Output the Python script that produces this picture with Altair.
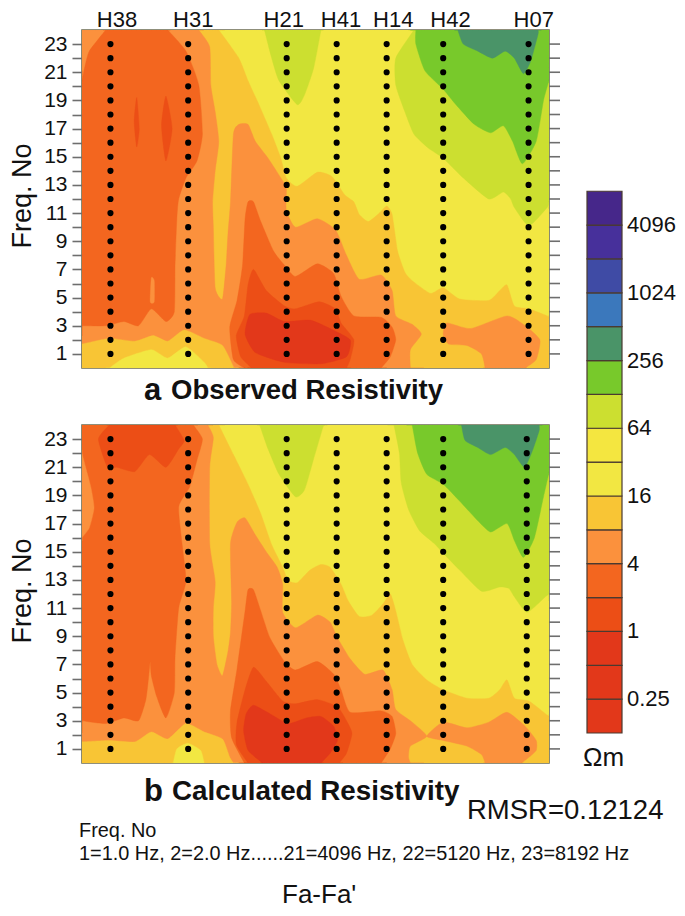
import altair as alt
import pandas as pd

# class colours
TEAL, GREEN, LIME = "#4A9468", "#78C92B", "#CCDF30"
YEL, GOLD, LOR = "#F2E742", "#F8C535", "#FB913D"
ORG, ROR, RED = "#F3661F", "#EC4E16", "#E2381A"

stations = ["H38", "H31", "H21", "H41", "H14", "H42", "H07"]
label_x = [321, 530, 778, 935, 1078, 1235, 1463]
dots_a = [303, 516, 786, 923, 1060, 1215, 1449]
dots_b = [303, 516, 786, 923, 1060, 1215, 1444]
freqs = list(range(1, 24))

# Panel a: contour outlines as (profile position, frequency number)
a_base = [(225, 0), (1505, 0), (1505, 24), (225, 24)]
a_lime = [(1135, 24), (1085, 22), (1085, 20.1), (1110, 18.2), (1135, 16.6), (1175, 15.6), (1215, 14.9), (1270, 13.5),
          (1340, 12), (1380, 12.5), (1400, 12), (1410, 11.4), (1450, 10.1), (1500, 11.4), (1505, 11.8), (1505, 24)]
a_lobe = [(725, 24), (745, 22), (765, 20.4), (815, 18.7), (835, 19.4), (860, 21.3), (880, 24)]
a_green = [(1140, 24), (1140, 23), (1165, 21.1), (1215, 19.8), (1250, 18.7), (1300, 17.3), (1345, 16.7), (1380, 17.2),
           (1405, 16.1), (1432, 14.5), (1470, 16.1), (1490, 19), (1505, 20.4), (1505, 24)]
a_teal = [(1255, 24), (1270, 23), (1310, 22.5), (1350, 22), (1385, 22.5), (1410, 22), (1435, 20.9), (1455, 21.8),
          (1475, 23.7), (1475, 24)]
a_gold = [(225, 24), (600, 24), (655, 22), (680, 20.4), (710, 18.7), (745, 16.6), (770, 14.9), (785, 13.5), (815, 12.9),
          (870, 13.9), (910, 13.6), (945, 12.3), (970, 11.8), (985, 10.9), (1010, 10.4), (1040, 11), (1060, 11.5),
          (1075, 10.9), (1090, 8.3), (1110, 6.8), (1130, 6.2), (1180, 5.3), (1215, 5.7), (1260, 4.9), (1340, 4.8),
          (1370, 5.5), (1390, 5.9), (1410, 4.4), (1450, 4.2), (1500, 3.7), (1505, 3.6), (1505, 0), (225, 0)]
a_lor = [(225, 24), (545, 24), (575, 22.8), (578, 20.1), (590, 18.2), (600, 16.1), (590, 14), (583, 11.8), (585, 10),
         (590, 5.7), (610, 4.9), (620, 7.3), (625, 9.5), (632, 11.8), (640, 16.6), (655, 17.3), (680, 17.3), (700, 16.1),
         (735, 14.9), (770, 13.5), (785, 12.8), (785, 11.2), (810, 10), (870, 10.6), (920, 9.8), (950, 8), (985, 6.3),
         (1045, 6.6), (1075, 5.5), (1085, 3.7), (1130, 3.1), (1155, 2.4), (1125, 1.3), (1125, 0), (225, 0)]
a_lor2 = [(1225, 3.2), (1290, 2.8), (1390, 3.7), (1440, 3), (1480, 2), (1470, 0.6), (1440, 0), (1330, 0), (1320, 1),
          (1280, 1.6), (1230, 1.7), (1215, 2.4)]
a_gold2 = [(225, 1.7), (300, 2.1), (370, 1.9), (420, 2.3), (460, 1.9), (505, 2.7), (560, 2.1), (610, 1.6), (640, 0.1),
           (640, 0), (225, 0)]
a_yel2 = [(300, 0), (340, 0.7), (415, 1.3), (460, 0.7), (510, 1.5), (560, 0.4), (570, 0)]
a_org = [(290, 24), (460, 24), (510, 22.5), (545, 20.1), (555, 16.6), (540, 14.7), (510, 13.5), (490, 12), (485, 10.6),
         (480, 7.3), (478, 4), (455, 3.3), (415, 4.2), (380, 3), (340, 3.3), (290, 3), (225, 3), (225, 20.4), (232, 21.3),
         (245, 22.5)]
a_sliver = [(415, 6.4), (423, 6.2), (423, 4.7), (412, 4.7)]
a_ror1 = [(375, 19.2), (382, 17), (375, 15.7), (368, 17.5)]
a_ror2 = [(455, 19.3), (472, 17), (455, 14.7), (443, 17.2)]
a_org2 = [(680, 11.8), (695, 11.8), (715, 10.4), (750, 8.3), (780, 7.3), (810, 6.5), (870, 7.4), (915, 6.7), (935, 5.1),
          (970, 3.7), (1045, 3.6), (1075, 2.9), (1085, 2), (1070, 0.8), (1045, 0), (670, 0), (640, 0.6), (630, 2.9),
          (650, 4.8), (665, 7.3), (672, 10.6)]
a_ror3 = [(695, 7), (730, 5.5), (780, 4.4), (810, 4.2), (875, 4.7), (920, 4.2), (935, 3.2), (970, 2), (960, 0.6),
          (950, 0), (690, 0), (660, 0.8), (648, 2.3), (670, 3.7), (680, 5.9)]
a_red = [(672, 2.4), (685, 3.8), (730, 3.9), (780, 3.3), (850, 3.4), (905, 2.8), (960, 2), (950, 0.8), (880, 0.3),
         (780, 0.4), (700, 1.1)]

# Panel b
b_base = [(225, 0), (1505, 0), (1505, 24), (225, 24)]
b_lime = [(1080, 24), (1095, 22), (1100, 19.9), (1120, 18), (1150, 16.5), (1190, 15.6), (1215, 14.9), (1260, 13.7),
          (1320, 12.2), (1370, 12.5), (1395, 12.4), (1410, 11.8), (1445, 10.7), (1495, 11.8), (1505, 12), (1505, 24)]
b_lobe = [(712, 24), (735, 22.3), (765, 20.5), (810, 18.9), (835, 19.4), (860, 21.6), (885, 23.8), (890, 24)]
b_green = [(1130, 24), (1145, 22), (1170, 20.5), (1215, 19.8), (1260, 18.6), (1310, 17.2), (1345, 16.4), (1390, 17),
           (1410, 15.8), (1435, 14.6), (1465, 16), (1490, 18.9), (1505, 20.6), (1505, 24)]
b_teal = [(1265, 24), (1275, 22.9), (1310, 22.4), (1345, 21.9), (1385, 22.4), (1410, 21.9), (1438, 21), (1460, 22.2),
          (1478, 23.6), (1478, 24)]
b_gold = [(225, 24), (600, 24), (640, 21.9), (680, 19.8), (715, 17.7), (745, 15.5), (775, 13.9), (790, 12.95),
          (815, 12.8), (850, 13.7), (880, 14.1), (905, 13.9), (935, 12.7), (955, 11.5), (985, 10.4), (1020, 10.5),
          (1050, 11.3), (1070, 12), (1085, 10.8), (1105, 8.7), (1130, 7), (1170, 5.9), (1215, 5.2), (1280, 4.6),
          (1340, 4.6), (1370, 5.2), (1390, 5.9), (1410, 4.6), (1450, 4.4), (1500, 3.4), (1505, 3.3), (1505, 0), (225, 0)]
b_lor = [(225, 24), (570, 24), (585, 23.1), (575, 21), (575, 15.6), (590, 12.9), (585, 11), (585, 9), (595, 7), (610, 6.2),
         (625, 7.9), (632, 9.3), (635, 11.5), (632, 15.6), (650, 17.1), (672, 17.4), (700, 16.2), (730, 15), (760, 13.9),
         (775, 12.7), (775, 10.7), (810, 9.6), (870, 10.5), (905, 10), (925, 8.9), (960, 7.4), (1000, 6.3), (1050, 6.6),
         (1075, 5.2), (1085, 3.8), (1130, 2.9), (1170, 1.9), (1125, 1.2), (1120, 0.4), (1125, 0), (225, 0)]
b_lor2 = [(1170, 1.9), (1215, 2.9), (1280, 2.5), (1340, 2.9), (1390, 3.6), (1440, 2.6), (1470, 1.6), (1470, 0.9),
          (1450, 0.4), (1430, 0), (1330, 0), (1320, 0.6), (1280, 1.2), (1215, 1.6)]
b_gold2 = [(225, 1.5), (300, 1.6), (370, 1.5), (415, 2.2), (460, 1.7), (510, 2.8), (560, 2.2), (610, 1.7), (630, 0.4),
           (640, 0), (225, 0)]
b_yel2 = [(475, 0), (485, 1), (515, 1.4), (550, 0.9), (560, 0)]
b_org = [(225, 24), (530, 24), (555, 23), (540, 21.5), (520, 19.6), (490, 18.2), (500, 15.4), (510, 12.9), (490, 11),
         (480, 7.5), (478, 5), (455, 3.2), (430, 4.7), (415, 6.2), (412, 7.2), (408, 6.2), (400, 4.5), (380, 3), (340, 3.2),
         (290, 2.8), (225, 3)]
b_left = [(225, 22), (235, 21), (250, 19.5), (258, 18.1), (245, 16.7), (225, 16)]
b_ror1 = [(300, 24), (270, 23), (295, 21), (320, 21), (370, 20.7), (410, 21.9), (455, 21), (490, 22.3), (505, 22.9), (480, 24)]
b_org2 = [(680, 12.3), (695, 12.3), (715, 10.8), (740, 8.9), (780, 7.2), (810, 6.6), (870, 7.2), (915, 6.3), (935, 5.2),
          (960, 3.6), (1045, 3.7), (1075, 3.3), (1085, 2.1), (1070, 1), (1045, 0), (670, 0), (635, 1.8), (632, 3.7),
          (650, 6.7), (672, 10.8)]
b_ror3 = [(695, 6.8), (730, 5.8), (775, 4.4), (810, 4.2), (870, 4.5), (925, 4), (950, 3), (965, 2.1), (950, 0.7), (930, 0),
          (680, 0), (648, 1.3), (650, 2.9), (672, 5.2)]
b_red = [(675, 3.5), (695, 4.1), (740, 3.5), (790, 2.8), (840, 3.2), (880, 3.3), (915, 2.6), (925, 1.6), (905, 0.7), (880, 0),
         (720, 0), (680, 0.9), (668, 2.3)]

layers_a = [(a_base, YEL), (a_lime, LIME), (a_lobe, LIME), (a_green, GREEN), (a_teal, TEAL), (a_gold, GOLD), (a_lor, LOR),
            (a_lor2, LOR), (a_gold2, GOLD), (a_yel2, YEL), (a_org, ORG), (a_sliver, LOR), (a_ror1, ROR), (a_ror2, ROR),
            (a_org2, ORG), (a_ror3, ROR), (a_red, RED)]
layers_b = [(b_base, YEL), (b_lime, LIME), (b_lobe, LIME), (b_green, GREEN), (b_teal, TEAL), (b_gold, GOLD), (b_lor, LOR),
            (b_lor2, LOR), (b_gold2, GOLD), (b_yel2, YEL), (b_org, ORG), (b_left, LOR), (b_ror1, ROR), (b_org2, ORG),
            (b_ror3, ROR), (b_red, RED)]

# Colour bar, bottom to top
bar_colors = [RED, RED, RED, ROR, ORG, LOR, GOLD, YEL, "#F4E640", LIME, GREEN, TEAL, "#3B78BC", "#3F4BA5", "#47309B", "#46278A"]
bar_labels = ["0.25", "1", "4", "16", "64", "256", "1024", "4096"]

FONT = "Liberation Sans"
W, H = 467, 338
Y_AXIS = alt.Axis(values=freqs, labelExpr="datum.value % 2 == 1 ? datum.value : ''", labelFont=FONT, labelFontSize=21,
                  labelColor="#111111", tickColor="#6e6e6e", tickWidth=1.6, tickSize=10, labelPadding=5, domain=False,
                  grid=False, title=None, labelOverlap=False)
X = alt.X("x:Q", scale=alt.Scale(domain=[225, 1505], nice=False), axis=None)
Y = alt.Y("y:Q", scale=alt.Scale(domain=[0, 24], nice=False), axis=Y_AXIS)


def polygon(points, color):
    pts = []
    for p in points:
        on_edge = p[0] in (225, 1505) or p[1] in (0, 24)
        pts.extend([p, p, p] if on_edge else [p])
    df = pd.DataFrame(pts, columns=["x", "y"]).assign(i=lambda d: d.index)
    return alt.Chart(df).mark_line(interpolate="cardinal-closed", tension=0.45, fill=color, stroke=color, strokeWidth=0.4,
                                   clip=True).encode(x=X, y=Y, order="i:Q")


def text(label, px, py, size, bold=False, align="left", angle=0):
    args = dict(align=align, baseline="middle", font=FONT, fontSize=size, color="#111111",
                fontWeight="bold" if bold else "normal")
    if angle:
        args["angle"] = angle
    return alt.Chart(pd.DataFrame({"t": [label]})).mark_text(**args).encode(
        x=alt.value(px), y=alt.value(py), text="t:N")


def panel(polys, dots, extra):
    shapes = [polygon(p, c) for p, c in polys]
    axis_df = pd.DataFrame({"y": freqs})
    right = alt.Chart(axis_df).mark_rule(color="#6e6e6e", strokeWidth=1.6).encode(
        x=alt.value(W), x2=alt.value(W + 11), y=Y)
    pts = pd.DataFrame([(d, f) for d in dots for f in freqs], columns=["x", "y"])
    points = alt.Chart(pts).mark_circle(size=38, color="black", opacity=1).encode(x=X, y=Y)
    return alt.layer(*shapes, right, points, *extra).properties(width=W, height=H)


top_df = pd.DataFrame({"x": label_x, "t": stations})
top = alt.Chart(top_df).mark_text(font=FONT, fontSize=22, baseline="middle", color="#111111").encode(
    x=X, y=alt.value(-10), text="t:N")

a = panel(layers_a, dots_a, [
    top,
    text("Freq. No", -59, 166, 27, align="center", angle=270),
    text("a", 62, 361, 31, bold=True),
    text("Observed Resistivity", 89, 361, 27.5, bold=True),
])
b = panel(layers_b, dots_b, [
    text("Freq. No", -59, 166, 27, align="center", angle=270),
    text("b", 62, 367, 31, bold=True),
    text("Calculated Resistivity", 90, 367, 27.8, bold=True),
    text("RMSR=0.12124", 385, 386, 27.5),
    text("Freq. No", -3, 406, 19.9),
    text("1=1.0 Hz, 2=2.0 Hz......21=4096 Hz, 22=5120 Hz, 23=8192 Hz", -3, 429, 19.9),
    text("Fa-Fa'", 200, 470, 26),
])

BAR_H = 703
bar_y = alt.Scale(domain=[0, 703 / 33.86], nice=False)
bar_df = pd.DataFrame({"lo": list(range(16)), "hi": list(range(1, 17)), "c": bar_colors})
bar = alt.Chart(bar_df).mark_rect(stroke="#4a3a30", strokeWidth=1.2).encode(
    x=alt.value(0), x2=alt.value(35),
    y=alt.Y("lo:Q", scale=bar_y, axis=None), y2="hi:Q",
    fill=alt.Fill("c:N", scale=None))
bar_text = alt.Chart(pd.DataFrame({"y": [e + 1 for e in range(0, 16, 2)], "t": bar_labels})).mark_text(
    font=FONT, fontSize=22, align="left", baseline="middle", color="#111111").encode(
    x=alt.value(40), y=alt.Y("y:Q", scale=bar_y, axis=None), text="t:N")
c = alt.layer(bar, bar_text, text("Ωm", -4, 728, 26)).properties(width=35, height=BAR_H, view=alt.ViewConfig(stroke=None))

chart = alt.hconcat(
    alt.vconcat(a, b, spacing=57, bounds="flush"), c, spacing=505, bounds="flush"
).properties(padding=0).configure_view(stroke="#6b6b50", strokeWidth=1.6)

chart.save("out.html", embed_options={"renderer": "svg", "actions": False})
